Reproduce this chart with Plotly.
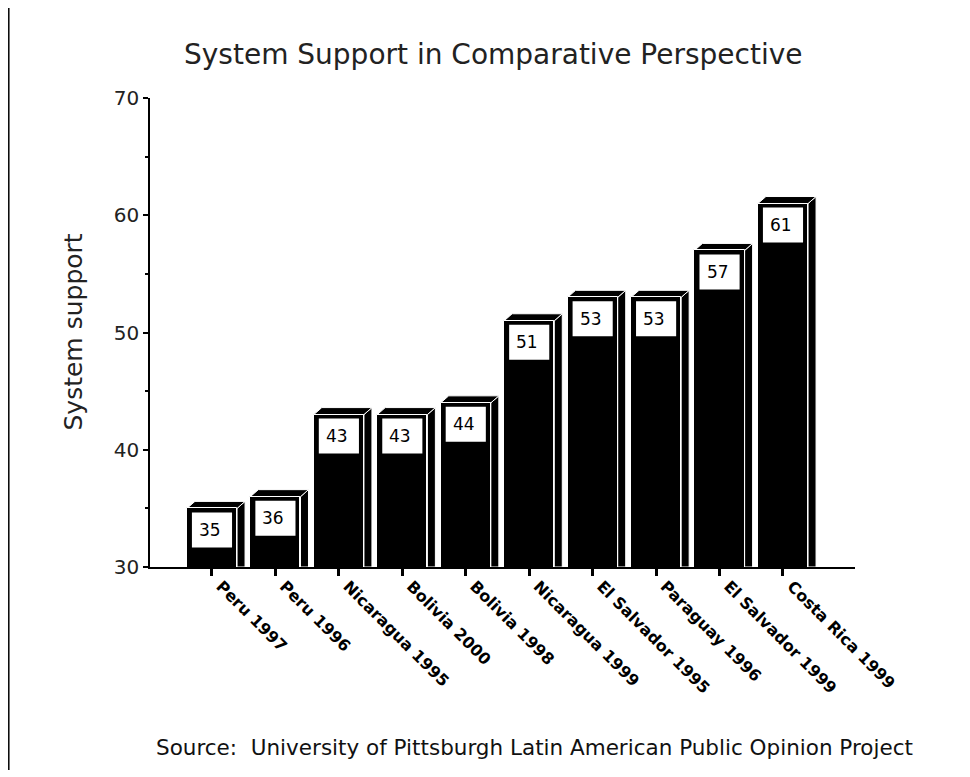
import plotly.graph_objects as go

categories = ["Peru 1997", "Peru 1996", "Nicaragua 1995", "Bolivia 2000", "Bolivia 1998",
              "Nicaragua 1999", "El Salvador 1995", "Paraguay 1996", "El Salvador 1999",
              "Costa Rica 1999"]
values = [35, 36, 43, 43, 44, 51, 53, 53, 57, 61]
y_ticks = [30, 40, 50, 60, 70]

TITLE = "System Support in Comparative Perspective"
Y_TITLE = "System support"
SOURCE = "Source:  University of Pittsburgh Latin American Public Opinion Project"

OFF = 8  # page body margin
W, H = 970, 777
plot_left, plot_right, plot_top, plot_bottom = 150, 855, 98, 567  # page pixel targets
L = plot_left - OFF
T = plot_top - OFF
plot_w = plot_right - plot_left
plot_h = plot_bottom - plot_top
R = W - L - plot_w
B = H - T - plot_h
X_RANGE = [-0.977, 10.135]
Y_RANGE = [30, 70]
px_x = plot_w / (X_RANGE[1] - X_RANGE[0])
px_y = plot_h / (Y_RANGE[1] - Y_RANGE[0])

bar_w = 0.79
dx = 8 / px_x
dy = 7 / px_y
FONT = "DejaVu Sans"


def px_to_paper_x(px):
    return (px - plot_left) / plot_w


def px_to_paper_y(py):
    return (plot_bottom - py) / plot_h


fig = go.Figure()
fig.add_trace(go.Bar(
    x=list(range(len(categories))), y=values, width=bar_w,
    marker=dict(color="black", line=dict(color="white", width=1)),
    hoverinfo="skip", showlegend=False,
))

shapes = []
annotations = []
ybase = Y_RANGE[0]
for i, v in enumerate(values):
    xl, xr = i - bar_w / 2, i + bar_w / 2
    shapes.append(dict(type="path", xref="x", yref="y", layer="below",
                       path=f"M {xr},{ybase} L {xr},{v} L {xr+dx},{v+dy} L {xr+dx},{ybase} Z",
                       fillcolor="black", line=dict(color="white", width=1)))
    shapes.append(dict(type="path", xref="x", yref="y", layer="below",
                       path=f"M {xl},{v} L {xl+dx},{v+dy} L {xr+dx},{v+dy} L {xr},{v} Z",
                       fillcolor="black", line=dict(color="white", width=1)))
    bx = 5 / px_x
    shapes.append(dict(type="rect", xref="x", yref="y", layer="above",
                       x0=xl + bx, x1=xr - bx, y0=v - 39 / px_y, y1=v - 4 / px_y,
                       fillcolor="white", line=dict(width=0)))
    annotations.append(dict(x=i - 2 / px_x, y=v - 21.5 / px_y, xref="x", yref="y",
                            text=str(v), showarrow=False, xanchor="center", yanchor="middle",
                            font=dict(family=FONT, size=17, color="black")))

# page border line at left
shapes.append(dict(type="line", xref="paper", yref="paper",
                   x0=px_to_paper_x(8.8), x1=px_to_paper_x(8.8),
                   y0=px_to_paper_y(8), y1=px_to_paper_y(770),
                   line=dict(color="black", width=1.5)))

annotations.append(dict(x=px_to_paper_x(493.5), y=px_to_paper_y(54), xref="paper", yref="paper",
                        text=TITLE, showarrow=False, xanchor="center", yanchor="middle",
                        font=dict(family=FONT, size=28, color="#222")))
annotations.append(dict(x=px_to_paper_x(73), y=0.5, xref="paper", yref="paper",
                        text=Y_TITLE, showarrow=False, xanchor="center", yanchor="middle",
                        textangle=-90, font=dict(family=FONT, size=25, color="#222")))
annotations.append(dict(x=px_to_paper_x(534.5), y=px_to_paper_y(747), xref="paper", yref="paper",
                        text=SOURCE, showarrow=False, xanchor="center", yanchor="middle",
                        font=dict(family=FONT, size=21.5, color="#111")))

fig.update_layout(
    width=W, height=H,
    margin=dict(l=L, r=R, t=T, b=B, pad=0),
    plot_bgcolor="white", paper_bgcolor="white",
    shapes=shapes, annotations=annotations,
    bargap=0, showlegend=False,
    xaxis=dict(range=X_RANGE, tickmode="array", tickvals=list(range(len(categories))),
               ticktext=categories, tickangle=45, showgrid=False, zeroline=False,
               showline=True, linecolor="black", linewidth=1.5,
               ticks="", ticklabelshift=9, ticklabelstandoff=2,
               tickfont=dict(family=FONT, size=16, color="black", weight="bold"),
               minor=dict(tickvals=list(range(len(categories))), ticks="outside", ticklen=7,
                          tickwidth=3, tickcolor="black")),
    yaxis=dict(range=Y_RANGE, tickmode="array", tickvals=y_ticks, showgrid=False, zeroline=False,
               showline=True, linecolor="black", linewidth=1.5,
               ticks="outside", ticklen=5, tickwidth=1.5, tickcolor="black",
               tickfont=dict(family=FONT, size=20, color="#222"),
               minor=dict(tickvals=[35, 45, 55, 65], ticks="outside", ticklen=3,
                          tickwidth=1.5, tickcolor="black")),
)

fig.write_html("out.html")
